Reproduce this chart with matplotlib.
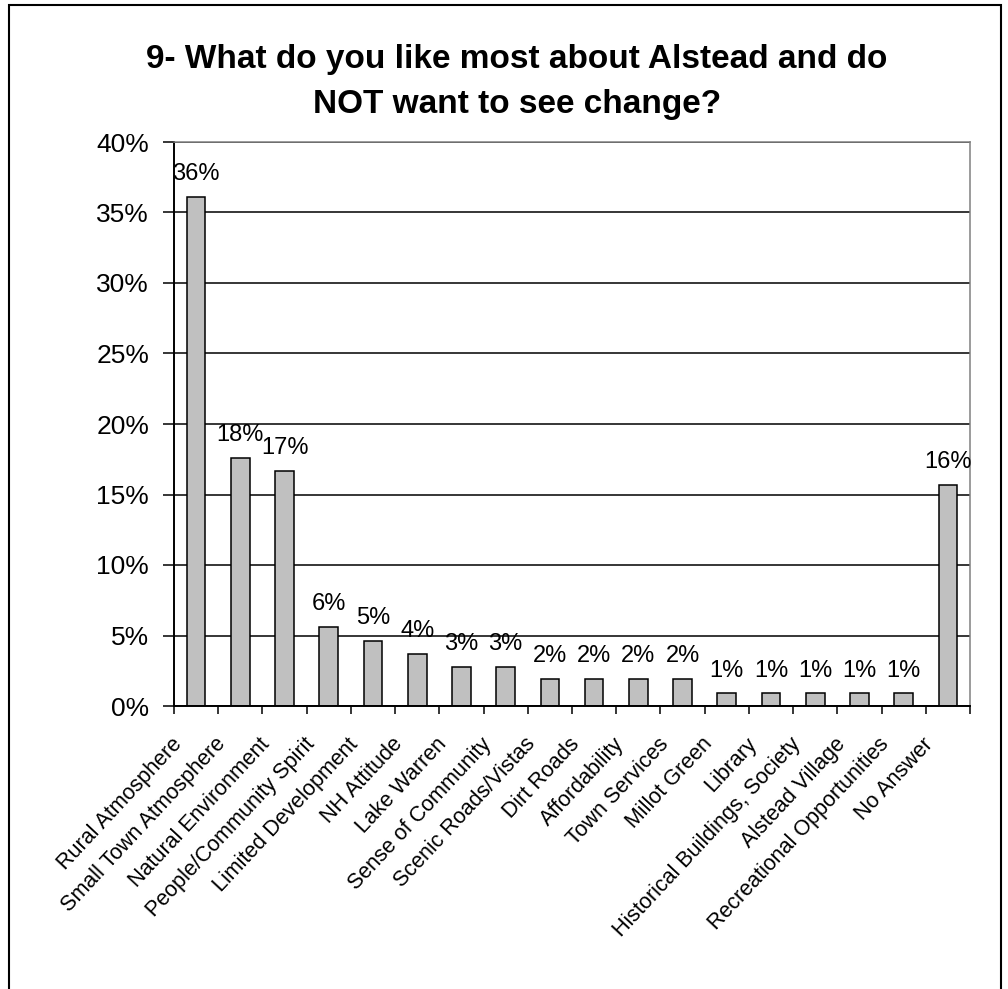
import numpy as np
import matplotlib
matplotlib.use("Agg")
import matplotlib.pyplot as plt
import matplotlib.transforms as mtransforms
from matplotlib.patches import Rectangle
from matplotlib.ticker import FixedLocator, FuncFormatter

plt.rcParams["font.family"] = ["Liberation Sans", "DejaVu Sans"]

# ---------------- data ----------------
categories = [
    "Rural Atmosphere", "Small Town Atmosphere", "Natural Environment",
    "People/Community Spirit", "Limited Development", "NH Attitude",
    "Lake Warren", "Sense of Community", "Scenic Roads/Vistas", "Dirt Roads",
    "Affordability", "Town Services", "Millot Green", "Library",
    "Historical Buildings, Society", "Alstead Village",
    "Recreational Opportunities", "No Answer",
]
values = [36.1, 17.6, 16.7, 5.6, 4.6, 3.7, 2.8, 2.8, 1.9, 1.9,
          1.9, 1.9, 0.9, 0.9, 0.9, 0.9, 0.9, 15.7]
title_lines = ["9- What do you like most about Alstead and do",
               "NOT want to see change?"]

W, H = 1008, 989
fig = plt.figure(figsize=(W / 100, H / 100), dpi=100)

# plot area in pixels (left, right, top, bottom)
L, R, T, B = 174, 970, 142, 706
ax = fig.add_axes([L / W, 1 - B / H, (R - L) / W, (B - T) / H])

x = np.arange(len(categories))
ax.bar(x, values, width=0.42, color="#C0C0C0", edgecolor="black",
       linewidth=1.1, zorder=2)

for xi, v in zip(x, values):
    ax.annotate(f"{v:.0f}%", (xi, v), xytext=(0, 8.5), textcoords="offset points",
                ha="center", va="bottom", fontsize=17, zorder=3)

ax.set_xlim(-0.5, len(categories) - 0.5)
ax.set_ylim(0, 40)

ax.yaxis.set_major_locator(FixedLocator(np.arange(0, 41, 5)))
ax.yaxis.set_major_formatter(FuncFormatter(lambda v, _: f"{v:.0f}%"))
ax.tick_params(axis="y", labelsize=19, length=8, width=1.1, pad=10, direction="out")

# category labels at centers, tick marks at boundaries
ax.set_xticks(x)
ax.set_xticklabels(categories, rotation=47, ha="right", fontsize=15.5)
ax.tick_params(axis="x", which="major", length=0, pad=20)
shift = mtransforms.ScaledTranslation(-10 / 100, 0, fig.dpi_scale_trans)
for lbl in ax.get_xticklabels():
    lbl.set_transform(lbl.get_transform() + shift)
ax.set_xticks(np.arange(-0.5, len(categories), 1), minor=True)
ax.tick_params(axis="x", which="minor", length=6, width=1.1, direction="out")

ax.set_axisbelow(True)
ax.yaxis.grid(True, color="black", linewidth=1.1)

for side in ("left", "bottom"):
    ax.spines[side].set_color("black")
    ax.spines[side].set_linewidth(1.4)
for side in ("top", "right"):
    ax.spines[side].set_color("#808080")
    ax.spines[side].set_linewidth(1.1)

# title, two lines centred
fig.text(517 / W, 1 - 68 / H, title_lines[0], ha="center", va="baseline",
         fontsize=24, fontweight="bold")
fig.text(517 / W, 1 - 113 / H, title_lines[1], ha="center", va="baseline",
         fontsize=24, fontweight="bold")

# outer chart border
fig.patches.append(Rectangle((9 / W, -0.01), (1001 - 9) / W, 1.01 - 5 / H,
                             transform=fig.transFigure, fill=False,
                             edgecolor="black", linewidth=1.5))

fig.savefig("out.png", dpi=100)
